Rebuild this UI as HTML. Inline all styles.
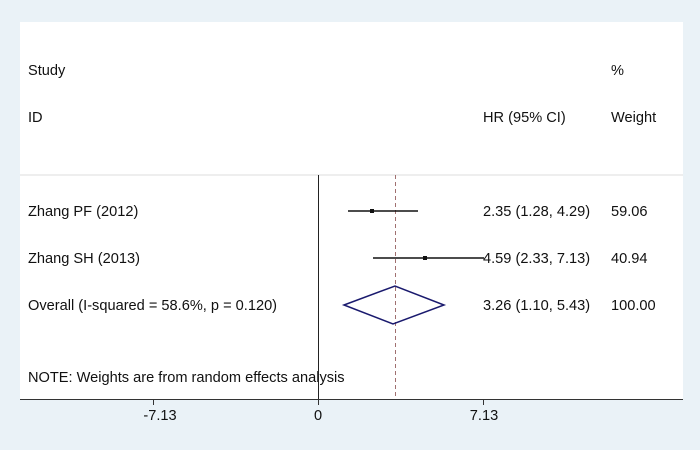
<!DOCTYPE html>
<html><head><style>html,body{margin:0;padding:0;background:#eaf2f7;overflow:hidden;}svg{display:block;}</style></head><body>
<svg width="700" height="450" xmlns="http://www.w3.org/2000/svg" font-family="Liberation Sans, Arial, sans-serif" font-size="14.6" fill="#111">
<rect x="0" y="0" width="700" height="450" fill="#eaf2f7"/>
<rect x="20" y="22" width="663" height="377" fill="#fff"/>
<line x1="20" y1="175" x2="683" y2="175" stroke="#ddd" stroke-width="1"/>
<text x="28" y="75">Study</text>
<text x="28" y="122">ID</text>
<text x="611" y="75">%</text>
<text x="483" y="122">HR (95% CI)</text>
<text x="611" y="122">Weight</text>
<text x="28" y="216">Zhang PF (2012)</text>
<text x="28" y="263">Zhang SH (2013)</text>
<text x="28" y="310">Overall  (I-squared = 58.6%, p = 0.120)</text>
<text x="28" y="382">NOTE: Weights are from random effects analysis</text>
<text x="483" y="216">2.35 (1.28, 4.29)</text>
<text x="483" y="263">4.59 (2.33, 7.13)</text>
<text x="483" y="310">3.26 (1.10, 5.43)</text>
<text x="611" y="216">59.06</text>
<text x="611" y="263">40.94</text>
<text x="611" y="310">100.00</text>
<line x1="318.5" y1="175" x2="318.5" y2="399" stroke="#222" stroke-width="1"/>
<line x1="395.5" y1="175" x2="395.5" y2="399" stroke="#a07070" stroke-width="1" stroke-dasharray="4,3"/>
<line x1="348" y1="211" x2="418" y2="211" stroke="#111" stroke-width="1.5"/>
<rect x="370" y="209" width="4" height="4" fill="#111"/>
<line x1="373" y1="258" x2="484" y2="258" stroke="#111" stroke-width="1.5"/>
<rect x="423" y="256" width="4" height="4" fill="#111"/>
<polygon points="344,305 395,286 444,305 393,324" fill="none" stroke="#1a1a6e" stroke-width="1.5"/>
<line x1="20" y1="399.5" x2="683" y2="399.5" stroke="#333" stroke-width="1"/>
<line x1="153.5" y1="399" x2="153.5" y2="405" stroke="#333"/>
<line x1="318.5" y1="399" x2="318.5" y2="405" stroke="#333"/>
<line x1="483.5" y1="399" x2="483.5" y2="405" stroke="#333"/>
<text x="160" y="420" text-anchor="middle">-7.13</text>
<text x="318" y="420" text-anchor="middle">0</text>
<text x="484" y="420" text-anchor="middle">7.13</text>
</svg>
</body></html>
